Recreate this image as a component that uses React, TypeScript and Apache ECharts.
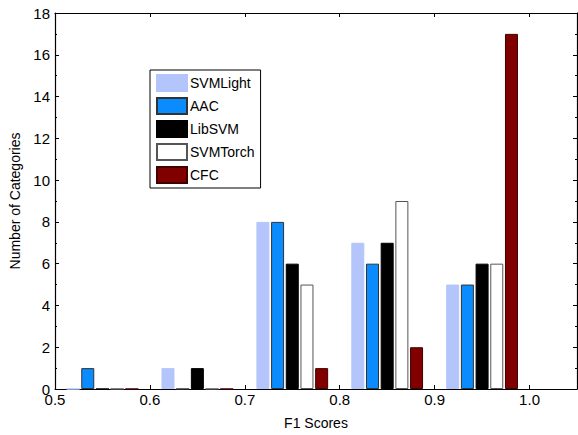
import React, { useEffect, useRef } from "react";
import * as echarts from "echarts";

const binCenters = [0.55, 0.65, 0.75, 0.85, 0.95];
const seriesNames = ["SVMLight", "AAC", "LibSVM", "SVMTorch", "CFC"];
const svmLight = [0, 1, 8, 7, 5];
const aac = [1, 0, 8, 6, 5];
const libSvm = [0, 1, 6, 7, 6];
const svmTorch = [0, 0, 5, 9, 6];
const cfc = [0, 0, 1, 2, 17];
const xTicks = [0.5, 0.6, 0.7, 0.8, 0.9, 1.0];
const yTicks = [0, 2, 4, 6, 8, 10, 12, 14, 16, 18];

const allValues = [svmLight, aac, libSvm, svmTorch, cfc];
const fills = ["#b3c5fa", "#0a8cff", "#000000", "#ffffff", "#800000"];
const borders = ["#b3c5fa", "#333333", "#000000", "#555555", "#400000"];

const FONT = "'Liberation Sans', Arial, Helvetica, sans-serif";

export default function App() {
  const ref = useRef<HTMLDivElement>(null);
  useEffect(() => {
    if (!ref.current) return;
    const chart = echarts.init(ref.current, undefined, { renderer: "svg" });
    const xMin = xTicks[0];
    const xMax = 1.05;
    const yMax = yTicks[yTicks.length - 1];
    const option: any = {
      animation: false,
      backgroundColor: "#ffffff",
      textStyle: { fontFamily: FONT, color: "#000" },
      grid: { left: 55, right: 1, top: 13, bottom: 36, containLabel: false },
      legend: {
        data: seriesNames,
        orient: "vertical",
        left: 150,
        top: 70,
        itemWidth: 30,
        itemHeight: 16,
        itemGap: 5,
        padding: [4, 6, 4, 6],
        borderColor: "#000",
        borderWidth: 1,
        backgroundColor: "#fff",
        icon: "rect",
        textStyle: { fontFamily: FONT, fontSize: 14, color: "#000", padding: [0, 0, 0, -2] },
      },
      xAxis: [
        {
          type: "value",
          min: xMin,
          max: xMax,
          interval: 0.1,
          position: "bottom",
          name: "F1 Scores",
          nameLocation: "middle",
          nameGap: 27,
          nameTextStyle: { fontFamily: FONT, fontSize: 14, color: "#000" },
          axisLine: { show: true, onZero: false, lineStyle: { color: "#000", width: 1.2 } },
          axisTick: { show: true, inside: true, length: 4, lineStyle: { color: "#000" } },
          axisLabel: {
            fontFamily: FONT,
            fontSize: 15,
            color: "#000",
            margin: 3,
            showMaxLabel: false,
            formatter: (v: number) => (xTicks.some((t) => Math.abs(t - v) < 1e-9) ? v.toFixed(1) : ""),
          },
          splitLine: { show: false },
        },
        {
          type: "value",
          min: xMin,
          max: xMax,
          interval: 0.1,
          position: "top",
          axisLine: { show: true, onZero: false, lineStyle: { color: "#000", width: 1.2 } },
          axisTick: { show: true, inside: true, length: 4, lineStyle: { color: "#000" } },
          axisLabel: { show: false },
          splitLine: { show: false },
        },
      ],
      yAxis: [
        {
          type: "value",
          min: 0,
          max: yMax,
          interval: 2,
          position: "left",
          name: "Number of Categories",
          nameLocation: "middle",
          nameGap: 33,
          nameTextStyle: { fontFamily: FONT, fontSize: 14, color: "#000" },
          axisLine: { show: true, onZero: false, lineStyle: { color: "#000", width: 1.2 } },
          axisTick: { show: true, inside: true, length: 4, lineStyle: { color: "#000" } },
          minorTick: { show: true, splitNumber: 2, length: 2, lineStyle: { color: "#000" } },
          axisLabel: { fontFamily: FONT, fontSize: 15, color: "#000", margin: 5 },
          splitLine: { show: false },
        },
        {
          type: "value",
          min: 0,
          max: yMax,
          interval: 2,
          position: "right",
          axisLine: { show: true, onZero: false, lineStyle: { color: "#000", width: 1.2 } },
          axisTick: { show: true, inside: true, length: 4, lineStyle: { color: "#000" } },
          minorTick: { show: true, splitNumber: 2, length: 2, lineStyle: { color: "#000" } },
          axisLabel: { show: false },
          splitLine: { show: false },
        },
      ],
      series: seriesNames.map((name, i) => ({
        name,
        type: "bar",
        xAxisIndex: 0,
        yAxisIndex: 0,
        barWidth: 13,
        barGap: "13%",
        data: binCenters.map((c, j) => [c, allValues[i][j]]),
        itemStyle: { color: fills[i], borderColor: borders[i], borderWidth: 1 },
      })),
    };
    chart.setOption(option);
    return () => chart.dispose();
  }, []);
  return (
    <div
      ref={ref}
      style={{ position: "fixed", left: 0, top: 0, width: 578, height: 435, background: "#fff" }}
    />
  );
}
